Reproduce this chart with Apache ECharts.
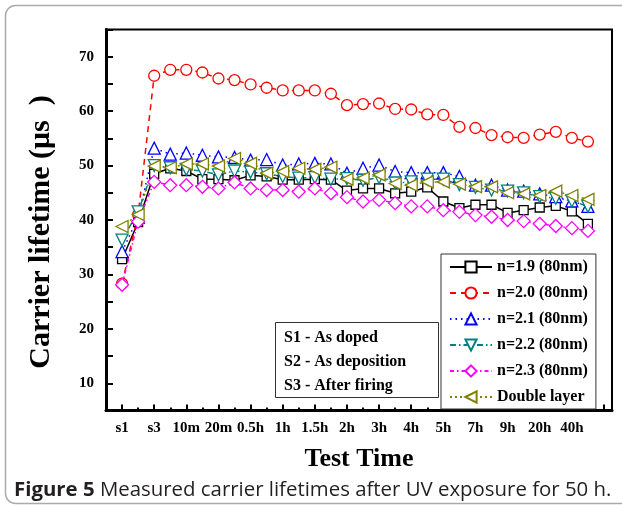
<!DOCTYPE html>
<html><head><meta charset="utf-8">
<script src="https://cdn.jsdelivr.net/npm/echarts@6/dist/echarts.min.js"></script>
<style>html,body{margin:0;padding:0;background:#fff}#c{width:622px;height:506px}</style>
</head><body><div id="c"></div>
<script>
// Tick labels (placed at every second measurement index)
const tickLabels = ['s1','s3','10m','20m','0.5h','1h','1.5h','2h','3h','4h','5h','7h','9h','20h','40h'];
const seriesNames = ['n=1.9 (80nm)','n=2.0 (80nm)','n=2.1 (80nm)','n=2.2 (80nm)','n=2.3 (80nm)','Double layer'];
const n19 = [32.8,39.6,48.5,49.5,49.0,47.5,47.5,47.3,48.2,48.0,47.4,47.4,47.5,47.4,45.4,45.8,45.8,44.9,45.2,46.0,43.4,42.2,42.8,42.8,41.3,41.8,42.3,42.6,41.6,39.3];
const n20 = [28.3,41.0,66.5,67.6,67.6,67.1,66.0,65.7,64.9,64.3,63.8,63.8,63.8,63.2,61.1,61.3,61.4,60.4,60.3,59.4,59.3,57.1,56.9,55.6,55.2,55.1,55.7,56.2,55.1,54.4];
const n21 = [34.2,40.5,53.2,52.1,52.3,51.9,51.6,51.5,51.0,51.1,50.1,50.3,50.4,50.3,48.6,49.5,50.1,48.9,48.7,48.7,48.7,48.0,46.4,46.4,45.5,45.3,44.8,44.3,43.5,42.5];
const n22 = [36.3,41.5,50.0,49.6,49.3,49.0,48.3,49.0,48.8,48.5,48.0,47.7,47.8,47.5,47.6,47.3,47.8,46.8,47.0,47.5,47.5,46.5,46.0,45.5,45.3,45.0,44.3,44.0,43.5,42.5];
const n23 = [28.1,39.7,47.0,46.4,46.4,46.1,45.8,46.9,45.8,45.5,45.5,45.2,45.8,44.9,44.2,43.4,43.7,43.1,42.5,42.5,41.8,41.5,40.9,40.6,40.0,39.8,39.3,38.9,38.5,38.0];
const dbl = [38.8,41.0,49.9,49.6,50.3,50.3,49.9,51.3,50.4,48.6,48.9,49.5,49.3,49.7,47.5,47.7,48.3,46.7,46.4,47.0,47.0,46.6,46.1,46.1,45.0,44.8,44.5,45.3,44.5,43.8];
const noteLines = ['S1 - As doped','S2 - As deposition','S3 - After firing'];
const captionBold = 'Figure 5';
const captionText = 'Measured carrier lifetimes after UV exposure for 50 h.';

const allValues = [n19, n20, n21, n22, n23, dbl];
const styles = [
  {color:'#000000', symbol:'rect', size:9, rot:0, type:'solid'},
  {color:'#ff0000', symbol:'circle', size:11, rot:0, type:[6,5]},
  {color:'#0000ff', symbol:'triangle', size:12, rot:0, type:[1.5,4]},
  {color:'#008080', symbol:'triangle', size:12, rot:180, type:[6,3,1.5,3]},
  {color:'#ff00ff', symbol:'diamond', size:13, rot:0, type:[4,3,1.5,3]},
  {color:'#808000', symbol:'triangle', size:12, rot:90, type:[2,3]}
];
const serif = '"Liberation Serif","Times New Roman",serif';
const sans = '"Open Sans","Noto Sans",sans-serif';
const series = allValues.map((vals, k) => ({
  name: seriesNames[k], type: 'line',
  data: vals.map((v, i) => [i, v]),
  symbol: styles[k].symbol, symbolSize: styles[k].size, symbolRotate: styles[k].rot,
  showAllSymbol: true,
  lineStyle: {color: styles[k].color, width: 1.5, type: styles[k].type},
  itemStyle: {color: '#ffffff', borderColor: styles[k].color, borderWidth: 1.3},
  emphasis: {disabled: true}, animation: false
}));
const evenIdx = tickLabels.map((_, i) => i * 2);
const majorTicks = []; const minorTicks = [];
for (let i = 0; i <= 30; i++) (i % 2 ? minorTicks : majorTicks).push(i);

const chart = echarts.init(document.getElementById('c'));
chart.setOption({
  animation: false,
  grid: {left: 106, right: 10, top: 29.5, bottom: 95.5, show: true, borderColor: '#000', borderWidth: 2},
  xAxis: [{
    type: 'value', min: -1, max: 30.5,
    name: 'Test Time', nameLocation: 'middle', nameGap: 36,
    nameTextStyle: {fontFamily: serif, fontWeight: 'bold', fontSize: 26, color: '#000'},
    axisLine: {show: true, onZero: false, lineStyle: {color: '#000', width: 3}},
    axisTick: {show: true, inside: true, length: 6, customValues: majorTicks, lineStyle: {color: '#000', width: 2}},
    axisLabel: {customValues: evenIdx, formatter: v => tickLabels[Math.round(v / 2)] || '', margin: 10,
      fontFamily: serif, fontWeight: 'bold', fontSize: 15, color: '#000'},
    splitLine: {show: false}
  }, {
    type: 'value', min: -1, max: 30.5, position: 'bottom',
    axisLine: {show: false},
    axisTick: {show: true, inside: true, length: 3, customValues: minorTicks, lineStyle: {color: '#000', width: 2}},
    axisLabel: {show: false}, splitLine: {show: false}
  }],
  yAxis: {
    type: 'value', min: 5, max: 75, interval: 5,
    name: 'Carrier lifetime (μs  )', nameLocation: 'middle', nameGap: 50, nameRotate: 90,
    nameTextStyle: {fontFamily: serif, fontWeight: 'bold', fontSize: 30, color: '#000', padding: [0, 24, 0, 0]},
    axisLine: {show: true, onZero: false, lineStyle: {color: '#000', width: 3}},
    axisTick: {show: true, inside: true, length: 7, lineStyle: {color: '#000', width: 2}},
    axisLabel: {formatter: v => (v % 10 === 0 && v >= 10 && v <= 70) ? String(v) : '', margin: 12,
      fontFamily: serif, fontWeight: 'bold', fontSize: 15, color: '#000'},
    splitLine: {show: false}
  },
  legend: {
    orient: 'vertical', left: 441, top: 254, itemWidth: 42, itemHeight: 14, itemGap: 10,
    padding: [5, 8, 4, 8], borderColor: '#333', borderWidth: 1, backgroundColor: '#fff',
    textStyle: {fontFamily: serif, fontWeight: 'bold', fontSize: 16, color: '#000'},
    selectedMode: false, data: seriesNames
  },
  series: series,
  graphic: [
    {type: 'rect', left: 275, top: 322, shape: {width: 163, height: 75},
      style: {fill: '#fff', stroke: '#333', lineWidth: 1}, z: 10},
    ...noteLines.map((t, i) => ({type: 'text', left: 284, top: 330 + i * 24, z: 11,
      style: {text: t, font: 'bold 16px ' + serif, fill: '#000'}})),
    {type: 'rect', left: 3, top: 3, shape: {x: 0, y: 0, width: 640, height: 498, r: 10}, silent: true,
      style: {fill: 'none', stroke: '#aaa', lineWidth: 1.5}, z: -1},
    {type: 'text', left: 14, top: 480, z: 11,
      style: {text: '{b|' + captionBold + '} ' + captionText,
        rich: {b: {font: 'bold 20.4px ' + sans, fill: '#231f20'}},
        font: '20.4px ' + sans, fill: '#231f20'}}
  ]
});
</script></body></html>
